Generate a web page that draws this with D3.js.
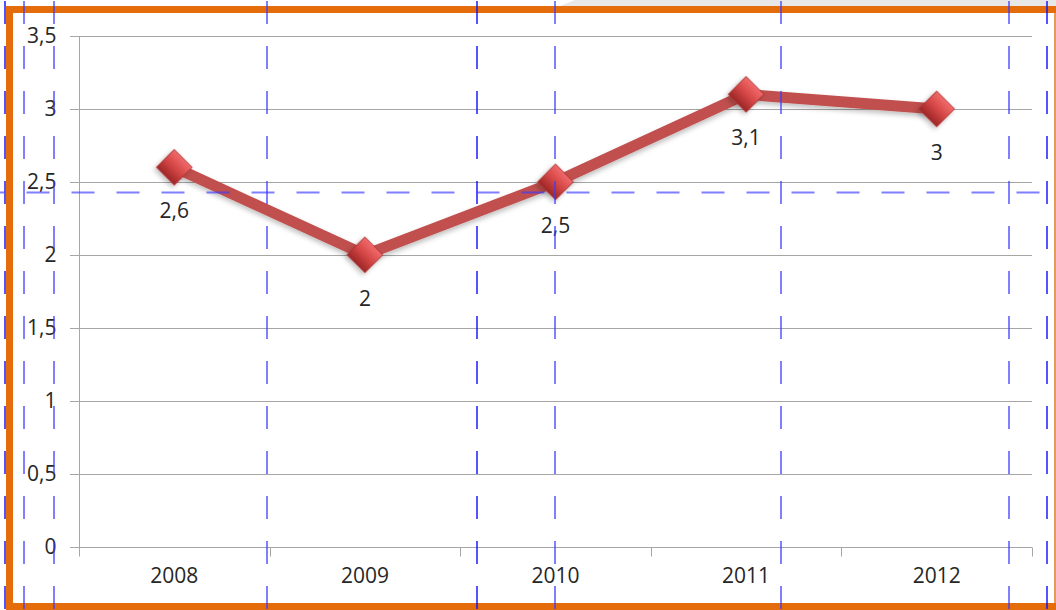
<!DOCTYPE html>
<html>
<head>
<meta charset="utf-8">
<script src="https://cdn.jsdelivr.net/npm/d3@7"></script>
<style>
html,body{margin:0;padding:0;background:#fff;}
svg{display:block;}
text{font-family:"Open Sans","Lato",sans-serif;fill:#262626;}
</style>
</head>
<body>
<svg id="chart" width="1056" height="610"></svg>
<script>
const categories = ["2008","2009","2010","2011","2012"];
const values = [2.6, 2, 2.5, 3.1, 3];
const yTicks = [0, 0.5, 1, 1.5, 2, 2.5, 3, 3.5];
// guide lines (overlay)
const vGuides = [
  {x:5, dark:true},{x:24, dark:false},{x:54, dark:false},{x:267, dark:false},
  {x:477, dark:true},{x:555, dark:false},{x:781, dark:false},{x:1009, dark:false},{x:1047, dark:true}
];
const hGuides = [192.5];

const W = 1056, H = 610;
const svg = d3.select("#chart");
const fmt = v => String(v).replace(".", ",");

const x = d3.scaleBand().domain(categories).range([79, 1032]).padding(0);
const y = d3.scaleLinear().domain([0, 3.5]).range([546.7, 36]);

// top gray strip
svg.append("path").attr("d", `M560,6 L575,0 L${W},0 L${W},6 Z`).attr("fill", "#e8e8e8");

const defs = svg.append("defs");
const grad = defs.append("linearGradient").attr("id","mk").attr("x1","0").attr("y1","0").attr("x2","0").attr("y2","1");
grad.append("stop").attr("offset","0%").attr("stop-color","#f26a6a");
grad.append("stop").attr("offset","50%").attr("stop-color","#d44646");
grad.append("stop").attr("offset","100%").attr("stop-color","#9c2626");
const sh = defs.append("filter").attr("id","sh").attr("x","-20%").attr("y","-20%").attr("width","140%").attr("height","160%");
sh.append("feDropShadow").attr("dx",0).attr("dy",3).attr("stdDeviation",2.5).attr("flood-color","#000").attr("flood-opacity",0.25);

// gridlines
svg.append("g").selectAll("line").data(yTicks).join("line")
  .attr("x1", 70).attr("x2", 1032)
  .attr("y1", d => Math.round(y(d)) + 0.5).attr("y2", d => Math.round(y(d)) + 0.5)
  .attr("stroke", "#a6a6a6").attr("stroke-width", 1);

// y axis
const yAxis = d3.axisLeft(y).tickValues(yTicks).tickFormat(fmt).tickSize(0).tickPadding(23);
const gy = svg.append("g").attr("transform","translate(79.5,0)").call(yAxis);
gy.select(".domain").attr("d", `M0,${y(3.5)}V555`).attr("stroke","#a6a6a6");
gy.selectAll("text").attr("font-size", 21).attr("fill","#262626").attr("font-family","'Open Sans',sans-serif");

// x axis
const xAxis = d3.axisBottom(x).tickSize(0).tickPadding(21);
const gx = svg.append("g").attr("transform",`translate(0,${Math.round(y(0))+0.5})`).call(xAxis);
gx.select(".domain").remove();
gx.selectAll("text").attr("font-size", 21).attr("fill","#262626").attr("font-family","'Open Sans',sans-serif");
const bounds = categories.map(c => x(c)).concat([x.range()[1]]);
gx.selectAll("line.bt").data(bounds).join("line").attr("class","bt")
  .attr("x1", d => Math.round(d)+0.5).attr("x2", d => Math.round(d)+0.5)
  .attr("y1", 0).attr("y2", 9).attr("stroke","#a6a6a6");

// line
const pts = categories.map((c,i) => [x(c) + x.bandwidth()/2, y(values[i])]);
svg.append("path").attr("d", d3.line()(pts))
  .attr("fill","none").attr("stroke","#c0504d").attr("stroke-width",11)
  .attr("stroke-linejoin","round").attr("filter","url(#sh)");

// markers
svg.append("g").selectAll("path").data(pts).join("path")
  .attr("d", d3.symbol(d3.symbolSquare, 640)())
  .attr("transform", d => `translate(${d[0]},${d[1]}) rotate(45)`)
  .attr("fill","url(#mk)").attr("stroke","#a83232").attr("stroke-width",0.8)
  .attr("filter","url(#sh)");

// data labels
svg.append("g").selectAll("text").data(values).join("text")
  .attr("x", (d,i) => pts[i][0]).attr("y", (d,i) => pts[i][1] + 43)
  .attr("text-anchor","middle").attr("dominant-baseline","central")
  .attr("font-size", 21).text(fmt);

// orange frame
const fr = svg.append("g").attr("fill","#e46c0a");
fr.append("rect").attr("x",6).attr("y",6).attr("width",W-6).attr("height",7);
fr.append("rect").attr("x",6).attr("y",6).attr("width",7).attr("height",H-6);
fr.append("rect").attr("x",6).attr("y",603).attr("width",W-6).attr("height",7);
fr.append("rect").attr("x",1054).attr("y",13).attr("width",2).attr("height",590).attr("fill","#e39a5a");

// blue dashed guides
const gg = svg.append("g").attr("fill","none");
gg.selectAll("line.v").data(vGuides).join("line").attr("class","v")
  .attr("x1", d => d.x).attr("x2", d => d.x).attr("y1", 0).attr("y2", H)
  .attr("stroke", d => d.dark ? "#1010ff" : "#3a3aff")
  .attr("stroke-opacity", d => d.dark ? 0.95 : 0.65)
  .attr("stroke-width", d => d.dark ? 1.5 : 2)
  .attr("stroke-dasharray","23,22").attr("stroke-dashoffset", -1);
gg.selectAll("line.h").data(hGuides).join("line").attr("class","h")
  .attr("x1", 0).attr("x2", W).attr("y1", d => d).attr("y2", d => d)
  .attr("stroke","#3a3aff").attr("stroke-opacity",0.65).attr("stroke-width",2)
  .attr("stroke-dasharray","23,22").attr("stroke-dashoffset", 18.5);
</script>
</body>
</html>
